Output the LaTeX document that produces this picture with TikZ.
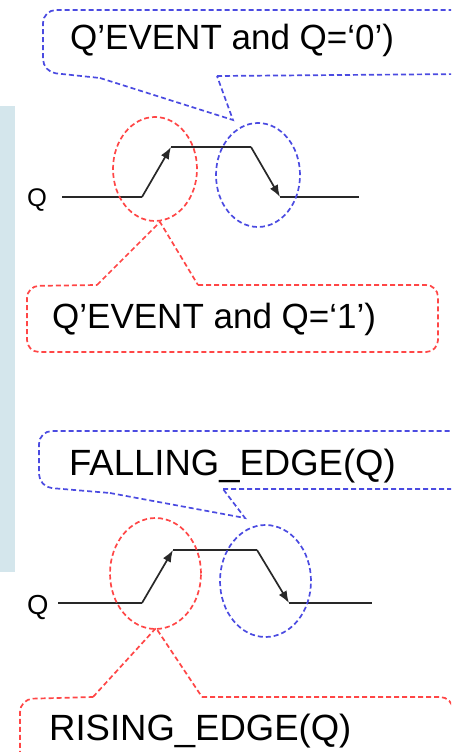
\documentclass[tikz,border=0pt]{standalone}
\usepackage{fontspec}
\setmainfont{Liberation Sans}
\usetikzlibrary{arrows.meta}
\definecolor{cblue}{RGB}{75,75,225}
\definecolor{cred}{RGB}{255,70,70}
\definecolor{panelc}{RGB}{212,230,236}
\definecolor{sigc}{RGB}{40,40,40}
\begin{document}
\begin{tikzpicture}[x=1pt,y=-1pt,
  bluedash/.style={draw=cblue, line width=1.7pt, dash pattern=on 5pt off 3pt},
  reddash/.style={draw=cred, line width=1.7pt, dash pattern=on 5pt off 3pt},
  sigline/.style={draw=sigc, line width=1.7pt},
  sigarrow/.style={sigline, -{Latex[length=12pt,width=9pt]}},
  bigtext/.style={anchor=base west, inner sep=0pt, font=\fontsize{35}{40}\selectfont},
  bigtextb/.style={anchor=base west, inner sep=0pt, font=\fontsize{36.5}{42}\selectfont},
  qtext/.style={anchor=base west, inner sep=0pt}]
\useasboundingbox (0,0) rectangle (451,752);
\clip (0,0) rectangle (451,752);
\fill[panelc] (0,106) rectangle (15,572);

% ---------- upper diagram ----------
\coordinate (s1a) at (62,197);
\coordinate (s1b) at (142,197);
\coordinate (s1c) at (171,147);
\coordinate (s1d) at (251,147);
\coordinate (s1e) at (280,197);
\coordinate (s1f) at (359,197);
\node[qtext, font=\fontsize{25.5}{30}\selectfont] (q1) at (27,206) {Q};
\draw[sigline] (s1a) -- (s1b);
\draw[sigarrow] (s1b) -- (s1c);
\draw[sigline] (s1c) -- (s1d);
\draw[sigarrow] (s1d) -- (s1e);
\draw[sigline] (s1e) -- (s1f);

\coordinate (e1r) at (155,169);
\coordinate (e1b) at (258,175);
\draw[reddash] (e1r) ellipse [x radius=42pt, y radius=52pt];
\draw[bluedash] (e1b) ellipse [x radius=42pt, y radius=52pt];

% blue callout 1
\coordinate (b1p1) at (217,76);
\coordinate (b1c1) at (465,74);
\coordinate (b1c2) at (465,10);
\coordinate (b1c3) at (43,10);
\coordinate (b1c4) at (43,72);
\coordinate (b1p2) at (100,78);
\coordinate (b1tip) at (233,120);
\draw[bluedash, rounded corners=13pt] (b1p1) -- (b1c1) -- (b1c2) -- (b1c3) -- (b1c4) -- (b1p2);
\draw[bluedash] (b1p2) -- (b1tip) -- (b1p1);
\node[bigtext] (t1) at (70,50) {Q’EVENT and Q=‘0’)};

% red callout 1
\coordinate (r1p1) at (198,285);
\coordinate (r1c1) at (438,285);
\coordinate (r1c2) at (438,352);
\coordinate (r1c3) at (27,352);
\coordinate (r1c4) at (27,286);
\coordinate (r1p2) at (97,285);
\coordinate (r1tip) at (160,222);
\draw[reddash, rounded corners=12pt] (r1p1) -- (r1c1) -- (r1c2) -- (r1c3) -- (r1c4) -- (r1p2);
\draw[reddash] (r1p2) -- (r1tip) -- (r1p1);
\node[bigtext] (t2) at (52,328) {Q’EVENT and Q=‘1’)};

% ---------- lower diagram ----------
\coordinate (s2a) at (58,603);
\coordinate (s2b) at (142,603);
\coordinate (s2c) at (173,550);
\coordinate (s2d) at (257,550);
\coordinate (s2e) at (289,603);
\coordinate (s2f) at (372,603);
\node[qtext, font=\fontsize{27.5}{32}\selectfont] (q2) at (27,614) {Q};
\draw[sigline] (s2a) -- (s2b);
\draw[sigarrow] (s2b) -- (s2c);
\draw[sigline] (s2c) -- (s2d);
\draw[sigarrow] (s2d) -- (s2e);
\draw[sigline] (s2e) -- (s2f);

\coordinate (e2r) at (155.5,573.5);
\coordinate (e2b) at (265.5,581);
\draw[reddash] (e2r) ellipse [x radius=45.5pt, y radius=55.5pt];
\draw[bluedash] (e2b) ellipse [x radius=45.5pt, y radius=56pt];

% blue callout 2
\coordinate (b2p1) at (223,489);
\coordinate (b2c1) at (465,489);
\coordinate (b2c2) at (465,431);
\coordinate (b2c3) at (39,431);
\coordinate (b2c4) at (39,487);
\coordinate (b2p2) at (110,493);
\coordinate (b2tip) at (245,518);
\draw[bluedash, rounded corners=13pt] (b2p1) -- (b2c1) -- (b2c2) -- (b2c3) -- (b2c4) -- (b2p2);
\draw[bluedash] (b2p2) -- (b2tip) -- (b2p1);
\node[bigtextb] (t3) at (69,475) {FALLING\_EDGE(Q)};

% red callout 2
\coordinate (r2p1) at (202,697);
\coordinate (r2c1) at (453,697);
\coordinate (r2c2) at (453,785);
\coordinate (r2c3) at (20,785);
\coordinate (r2c4) at (20,699);
\coordinate (r2p2) at (93,697);
\coordinate (r2tip) at (156,628);
\draw[reddash, rounded corners=13pt] (r2p1) -- (r2c1) -- (r2c2) -- (r2c3) -- (r2c4) -- (r2p2);
\draw[reddash] (r2p2) -- (r2tip) -- (r2p1);
\node[bigtextb] (t4) at (49,740) {RISING\_EDGE(Q)};
\end{tikzpicture}
\end{document}
